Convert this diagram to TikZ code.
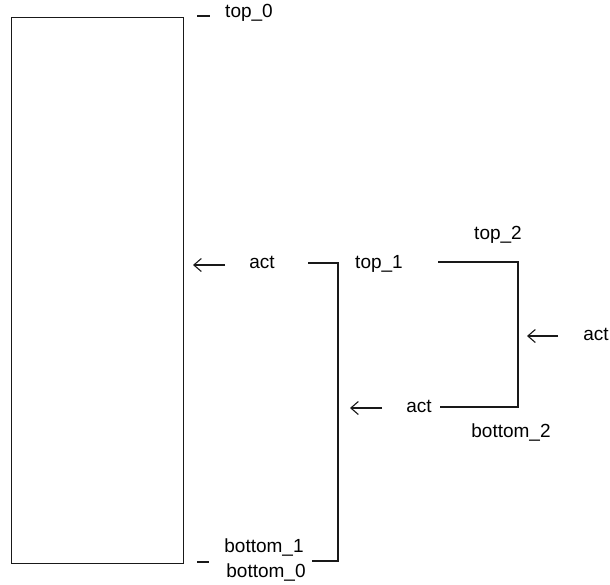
\documentclass[tikz,border=0pt]{standalone}
\usepackage{fontspec}
\setmainfont{Liberation Sans}
\usetikzlibrary{arrows.meta}
\begin{document}
\begin{tikzpicture}[x=1pt,y=-1pt,
  wire/.style={line width=1.4pt,draw=black!90},
  lbl/.style={inner sep=0pt,font=\fontsize{19}{21}\selectfont},
  push/.style={line width=1.1pt,draw=black!90,-{Straight Barb[length=7.5pt,width=13pt,line width=1.1pt]}}]
\useasboundingbox (0,0) rectangle (610,584);

% stack 0: tall column
\node[wire,draw,inner sep=0pt,minimum width=172pt,minimum height=546pt,anchor=north west] (col0) at (11,17) {};

% labels
\node[lbl] (top0) at (249,13) {top\_0};
\node[lbl] (act1) at (262,262) {act};
\node[lbl] (top1) at (379,264) {top\_1};
\node[lbl] (top2) at (498,235) {top\_2};
\node[lbl] (act2) at (596,334) {act};
\node[lbl] (act3) at (419,406) {act};
\node[lbl] (bot2) at (511,432) {bottom\_2};
\node[lbl] (bot1) at (264,547) {bottom\_1};
\node[lbl] (bot0) at (266,572) {bottom\_0};

% tick marks beside column 0
\coordinate (t0a) at (197,16);  \coordinate (t0b) at (210,16);
\coordinate (b0a) at (197,562); \coordinate (b0b) at (209,562);
\draw[wire] (t0a) -- (t0b);
\draw[wire] (b0a) -- (b0b);

% stack 1 bracket
\coordinate (s1a) at (308,263);
\coordinate (s1b) at (338,263);
\coordinate (s1c) at (338,561);
\coordinate (s1d) at (312,561);
\draw[wire] (s1a) -- (s1b) -- (s1c) -- (s1d);

% stack 2 bracket
\coordinate (s2a) at (438,262);
\coordinate (s2b) at (518,262);
\coordinate (s2c) at (518,407);
\coordinate (s2d) at (440,407);
\draw[wire] (s2a) -- (s2b) -- (s2c) -- (s2d);

% push arrows
\coordinate (p1s) at (225,265); \coordinate (p1e) at (193,265);
\coordinate (p2s) at (558,336); \coordinate (p2e) at (527,336);
\coordinate (p3s) at (382,408); \coordinate (p3e) at (350,408);
\draw[push] (p1s) -- (p1e);
\draw[push] (p2s) -- (p2e);
\draw[push] (p3s) -- (p3e);
\end{tikzpicture}
\end{document}
